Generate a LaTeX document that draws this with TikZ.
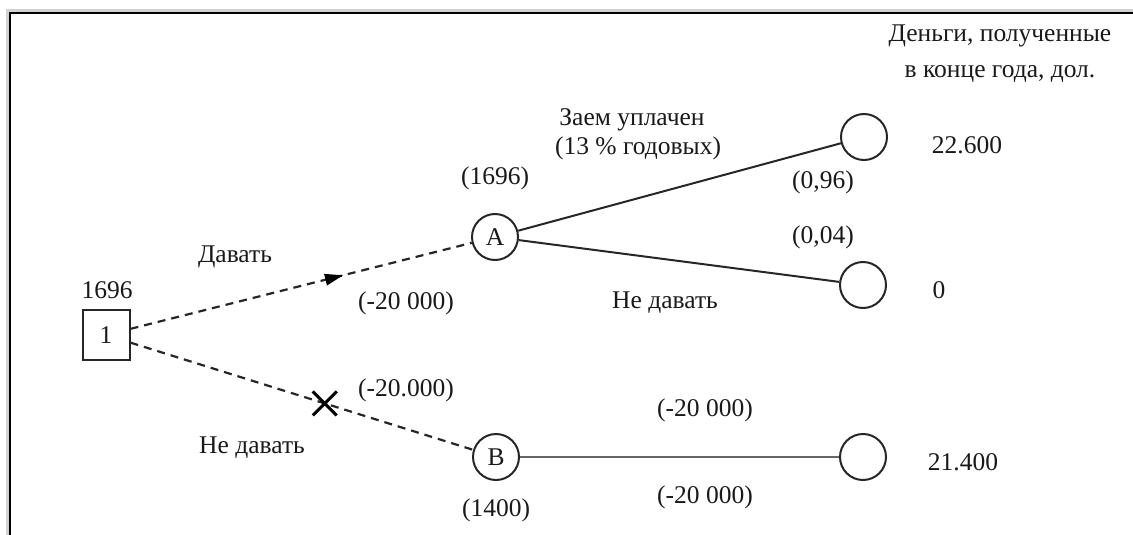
\documentclass[tikz,border=0pt]{standalone}
\usepackage{fontspec}
\setmainfont{Liberation Serif}
\usetikzlibrary{shapes.misc,decorations.markings}
\begin{document}
\begin{tikzpicture}[x=1pt,y=-1pt,
 every node/.style={font=\fontsize{25.5}{30}\selectfont, text=black!90},
 chance/.style={circle,draw=black!85,line width=2pt,minimum size=46pt,inner sep=0pt},
 decbox/.style={rectangle,draw=black!85,line width=2pt,minimum width=47pt,minimum height=50pt,inner sep=0pt},
 lbl/.style={inner sep=0pt},
 dline/.style={draw=black!85,dash pattern=on 8pt off 6pt, line width=2.2pt},
 sline/.style={draw=black!85,line width=2pt},
 xmark/.style={cross out,draw=black,solid,line width=3pt,minimum size=21pt,inner sep=0pt}]
\useasboundingbox (0,0) rectangle (1133,535);
\draw[gray!35,line width=3pt] (7.5,535) -- (7.5,10.5) -- (1133,10.5);
\draw[black,line width=2.2pt] (10,535) -- (10,13) -- (1133,13);

\node[decbox] (n1) at (106,335) {1};
\node[chance] (A) at (495,237) {A};
\node[chance] (B) at (496,457) {B};
\node[chance] (A1) at (864,137) {};
\node[chance] (A2) at (863,285) {};
\node[chance] (B1) at (863,457) {};

\draw[dline, postaction={decorate},
  decoration={markings, mark=at position 0.6 with {\fill[black,solid] (8,0) -- (-10,6) -- (-10,-6) -- cycle;}}]
  (n1) -- (A);
\draw[dline] (n1) -- node[xmark, pos=0.567] (X) {} (B);
\draw[sline] (A) -- (A1);
\draw[sline] (A) -- (A2);
\draw[sline, draw=black!60, line width=2.8pt] (B) -- (B1);

\node[lbl] (t1696) at (107,290) {1696};
\node[lbl] (tA) at (495,178) {(1696)};
\node[lbl] (tB) at (496,510) {(1400)};
\node[lbl] (give) at (235,257) {Давать};
\node[lbl] (c1) at (406,303) {(-20 000)};
\node[lbl] (c2) at (406,390) {(-20.000)};
\node[lbl] (nogive) at (252,448) {Не давать};
\node[lbl] (paid) at (632,120) {Заем уплачен};
\node[lbl] (rate) at (638,148) {(13 \% годовых)};
\node[lbl] (p1) at (823,182) {(0,96)};
\node[lbl] (p2) at (823,237) {(0,04)};
\node[lbl] (nogive2) at (665,303) {Не давать};
\node[lbl] (c3) at (705,410) {(-20 000)};
\node[lbl] (c4) at (705,497) {(-20 000)};
\node[lbl] (v1) at (967,145) {22.600};
\node[lbl] (v2) at (939,290) {0};
\node[lbl] (v3) at (963,462) {21.400};
\node[lbl, align=center, font=\fontsize{25.5}{36}\selectfont] (head) at (1000,54) {Деньги, полученные\\в конце года, дол.};
\end{tikzpicture}
\end{document}
